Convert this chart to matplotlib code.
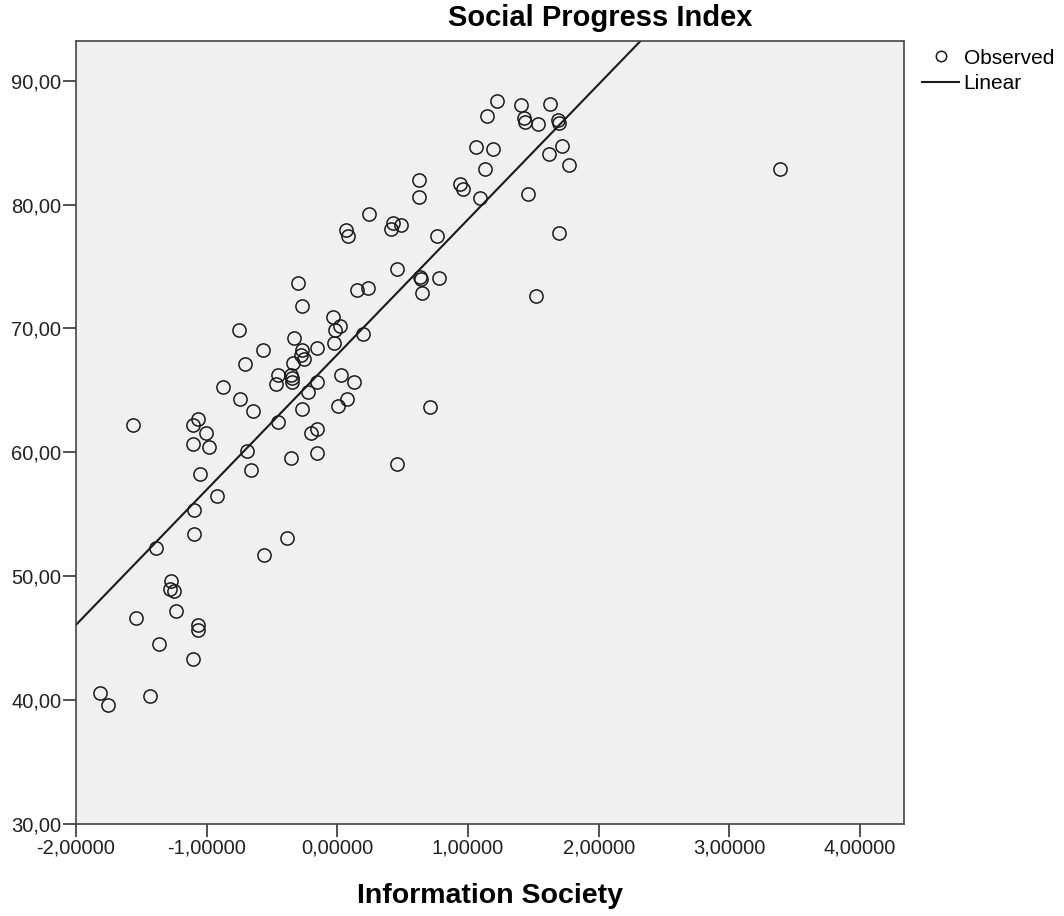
import numpy as np
import matplotlib
matplotlib.use("Agg")
import matplotlib.pyplot as plt
from matplotlib.lines import Line2D
from matplotlib.ticker import FuncFormatter, FixedLocator

plt.rcParams['font.family'] = ['Liberation Sans', 'DejaVu Sans']

title = "Social Progress Index"
x_label = "Information Society"
legend_labels = ["Observed", "Linear"]

info_society = [
    -1.816, -1.757, -1.434, -1.539, -1.367, -1.388, -1.562, -1.275, -1.281, -1.248,
    -1.235, -1.103, -1.069, -1.064, -1.099, -1.095, -1.103, -1.103, -1.064, -1.008,
    -0.982, -1.051, -0.919, -0.873, -0.745, -0.751, -0.707, -0.689, -0.663, -0.643,
    -0.572, -0.559, -0.388, -0.457, -0.472, -0.451, -0.357, -0.355, -0.347, -0.350,
    -0.330, -0.337, -0.299, -0.271, -0.273, -0.269, -0.281, -0.253, -0.227, -0.158,
    -0.154, -0.152, -0.202, -0.158, -0.030, 0.020, -0.016, -0.024, 0.028, 0.129,
    0.076, 0.002, 0.063, 0.083, 0.194, 0.154, 0.232, 0.244, 0.428, 0.410,
    0.484, 0.460, 0.458, 0.627, 0.628, 0.632, 0.643, 0.780, 0.647, 0.708,
    0.760, 0.940, 0.959, 1.060, 1.091, 1.127, 1.147, 1.188, 1.225, 1.403,
    1.429, 1.437, 1.460, 1.533, 1.518, 1.617, 1.627, 1.692, 1.698, 1.699,
    1.716, 1.770, 3.386,
]
social_progress = [
    40.55, 39.60, 40.33, 46.65, 44.50, 52.28, 62.23, 49.61, 48.94, 48.81,
    47.17, 43.29, 46.06, 45.66, 53.38, 55.32, 60.67, 62.23, 62.69, 61.53,
    60.45, 58.27, 56.47, 65.25, 64.30, 69.87, 67.13, 60.13, 58.60, 63.36,
    68.26, 51.69, 53.08, 66.24, 65.51, 62.45, 59.56, 66.24, 65.97, 65.65,
    69.20, 67.18, 73.66, 71.81, 63.47, 68.26, 67.85, 67.53, 64.87, 68.39,
    65.65, 61.86, 61.53, 59.97, 70.92, 70.22, 69.87, 68.82, 66.24, 65.67,
    64.28, 63.71, 77.94, 77.48, 69.55, 73.10, 73.30, 79.23, 78.48, 78.00,
    78.32, 74.82, 59.08, 81.95, 80.61, 74.17, 73.99, 74.07, 72.83, 63.68,
    77.43, 81.68, 81.23, 84.66, 80.55, 82.84, 87.14, 84.48, 88.38, 88.01,
    86.96, 86.66, 80.87, 86.47, 72.61, 84.05, 88.09, 86.82, 86.60, 77.72,
    84.72, 83.16, 82.87,
]
x_ticks = [-2, -1, 0, 1, 2, 3, 4]
y_ticks = [30, 40, 50, 60, 70, 80, 90]

x = np.array(info_society)
y = np.array(social_progress)

fig = plt.figure(figsize=(10.64, 9.16), dpi=100)
ax = fig.add_axes([0.0714, 0.1004, 0.7786, 0.8552])
ax.set_facecolor('#f0f0f0')

ax.plot(x, y, linestyle='none', marker='o', markersize=9.5,
        markerfacecolor='none', markeredgecolor='#1a1a1a', markeredgewidth=1.1,
        zorder=3)

slope, intercept = np.polyfit(x, y, 1)
xl = np.array([-2.0, 4.4])
ax.plot(xl, intercept + slope * xl, color='#1a1a1a', linewidth=1.5, zorder=2)

ax.set_xlim(-2.0, 4.34)
ax.set_ylim(30, 93.23)
ax.xaxis.set_major_locator(FixedLocator(x_ticks))
ax.yaxis.set_major_locator(FixedLocator(y_ticks))
ax.xaxis.set_major_formatter(FuncFormatter(lambda v, p: f"{v:.5f}".replace('.', ',')))
ax.yaxis.set_major_formatter(FuncFormatter(lambda v, p: f"{v:.2f}".replace('.', ',')))
ax.tick_params(direction='out', length=9.5, width=1.1, color='#222222',
               labelsize=14.5, labelcolor='#222222', pad=1)
for s in ax.spines.values():
    s.set_color('#444444')
    s.set_linewidth(1.2)

ax.set_xlabel(x_label, fontsize=20.5, fontweight='bold', labelpad=18.5)
fig.text(0.564, 0.9800, title, ha='center', va='center', fontsize=21,
         fontweight='bold')

handles = [
    Line2D([], [], linestyle='none', marker='o', markersize=7.5,
           markerfacecolor='none', markeredgecolor='#1a1a1a', markeredgewidth=1.1),
    Line2D([], [], color='#1a1a1a', linewidth=1.5),
]
fig.legend(handles, legend_labels, loc='upper left',
           bbox_to_anchor=(0.8665, 0.947), frameon=False, fontsize=15,
           handlelength=1.8, handletextpad=0.2, labelspacing=0.3,
           borderpad=0, borderaxespad=0)

fig.savefig('out.png', dpi=100)
